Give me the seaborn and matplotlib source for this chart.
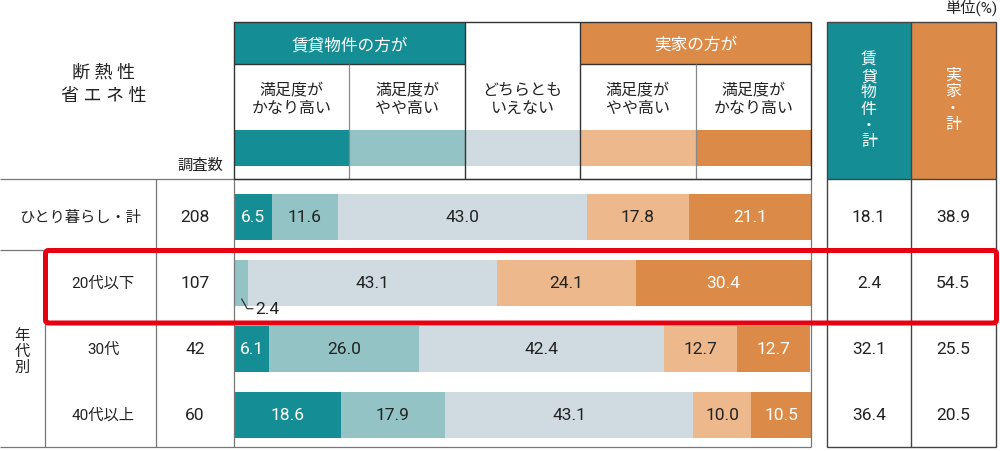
import numpy as np
import pandas as pd
import matplotlib
matplotlib.use('Agg')
import matplotlib.pyplot as plt
import seaborn as sns
from matplotlib.patches import Rectangle, FancyBboxPatch

# ---------------- data ----------------
rows = ['ひとり暮らし・計', '20代以下', '30代', '40代以上']
counts = [208, 107, 42, 60]
very_rent = [6.5, 0.0, 6.1, 18.6]     # 賃貸物件の方が 満足度がかなり高い
some_rent = [11.6, 2.4, 26.0, 17.9]   # 賃貸物件の方が 満足度がやや高い
neutral = [43.0, 43.1, 42.4, 43.1]    # どちらともいえない
some_home = [17.8, 24.1, 12.7, 10.0]  # 実家の方が 満足度がやや高い
very_home = [21.1, 30.4, 12.7, 10.5]  # 実家の方が 満足度がかなり高い
rent_total = [18.1, 2.4, 32.1, 36.4]
home_total = [38.9, 54.5, 25.5, 20.5]
categories = ['満足度が\nかなり高い', '満足度が\nやや高い', 'どちらとも\nいえない',
              '満足度が\nやや高い', '満足度が\nかなり高い']
group_rent = '賃貸物件の方が'
group_home = '実家の方が'
title_lines = '断 熱 性\n省 エ ネ 性'

# ---------------- style ----------------
sns.set_theme(style='white')
plt.rcParams['font.family'] = ['Roboto', 'Noto Sans CJK JP', 'DejaVu Sans']

TEAL = '#148e94'
LTEAL = '#93c3c5'
NEUT = '#d0dbe1'
LORNG = '#edb98c'
ORNG = '#dc8a47'
INK = '#222222'
colors = [TEAL, LTEAL, NEUT, LORNG, ORNG]
txtcol = ['white', INK, INK, INK, 'white']

W, H = 1000, 452
fig = plt.figure(figsize=(W / 100, H / 100), dpi=100)
fig.patch.set_facecolor('white')

# bar axes (table body, bar column)
ax = fig.add_axes([234 / W, (H - 448) / H, 577 / W, 268 / H])
# overlay axes in pixel coordinates
ov = fig.add_axes([0, 0, 1, 1], zorder=5)
ov.set_xlim(0, W)
ov.set_ylim(H, 0)
ov.axis('off')
ov.patch.set_visible(False)

# ---------------- stacked bars ----------------
series = [very_rent, some_rent, neutral, some_home, very_home]
cum = np.cumsum(np.array(series), axis=0)
for j in reversed(range(5)):
    df = pd.DataFrame({'row': rows, 'value': cum[j]})
    sns.barplot(data=df, x='value', y='row', color=colors[j], width=0.71,
                saturation=1, orient='h', linewidth=0, errorbar=None, ax=ax)

ROW_STEP = 66
Y_TOP = -38 / ROW_STEP
ax.set_xlim(0, 100)
ax.set_ylim(Y_TOP + 268 / ROW_STEP, Y_TOP)
ax.axis('off')

NUM_FS = 12.5
for i in range(len(rows)):
    for j in range(5):
        v = series[j][i]
        if v == 0:
            continue
        start = cum[j][i] - v
        if v < 4:
            # small segment: label below with leader line
            ax.plot([start + v * 0.55, start + v * 0.95, start + v + 0.9],
                    [i + 0.24, i + 0.39, i + 0.39], color=INK, lw=0.8,
                    solid_joinstyle='miter')
            ax.text(start + v + 1.3, i + 0.39, f'{v:.1f}', ha='left',
                    va='center', color=INK, fontsize=NUM_FS)
        else:
            ax.text(start + v / 2, i, f'{v:.1f}', ha='center', va='center',
                    color=txtcol[j], fontsize=NUM_FS)

# ---------------- table / header ----------------
def rect(x0, y0, x1, y1, fc='none', ec='none', lw=0.0, z=1):
    ov.add_patch(Rectangle((x0, y0), x1 - x0, y1 - y0, facecolor=fc,
                           edgecolor=ec, linewidth=lw, zorder=z))

def hline(y, x0, x1, c='#777777', lw=0.9):
    ov.plot([x0, x1], [y, y], color=c, lw=lw, zorder=3, solid_capstyle='butt')

def vline(x, y0, y1, c='#777777', lw=0.9):
    ov.plot([x, x], [y0, y1], color=c, lw=lw, zorder=3, solid_capstyle='butt')

xs = [234 + 577 * k / 5 for k in range(6)]
row_y = [218 + ROW_STEP * k for k in range(4)]
JP_FS = 11

# group headers
rect(xs[0], 23, xs[2], 65, fc=TEAL)
rect(xs[3], 23, xs[5], 65, fc=ORNG)
ov.text((xs[0] + xs[2]) / 2, 45, group_rent, ha='center', va='center',
        color='white', fontsize=12)
ov.text((xs[3] + xs[5]) / 2, 45, group_home, ha='center', va='center',
        color='white', fontsize=12)
# legend strip
for k in range(5):
    rect(xs[k], 131, xs[k + 1], 167, fc=colors[k])
    ov.text((xs[k] + xs[k + 1]) / 2, 99, categories[k], ha='center',
            va='center', color=INK, fontsize=11.5, linespacing=1.25)
# header lines
rect(234, 23, 811, 180, ec='#333333', lw=1.0, z=4)
hline(65, xs[0], xs[2], c='#333333', lw=1.0)
hline(65, xs[3], xs[5], c='#333333', lw=1.0)
vline(xs[2], 23, 180, c='#333333', lw=1.0)
vline(xs[3], 23, 180, c='#333333', lw=1.0)
vline(xs[1], 65, 180, c='#888888')
vline(xs[4], 65, 180, c='#888888')

# left header
ov.text(104, 84, title_lines, ha='center', va='center', color=INK,
        fontsize=13, linespacing=1.4)
ov.text(200, 166, '調査数', ha='center', va='center', color=INK, fontsize=JP_FS)
ov.text(997, 8, '単位(%)', ha='right', va='center', color=INK, fontsize=11)

# body lines
for y in (180, 251, 448):
    hline(y, 0, 811)
vline(45, 251, 448)
vline(156, 180, 448)
vline(234, 180, 448)
vline(811, 180, 448)

# row labels
ov.text(80, row_y[0], rows[0], ha='center', va='center', color=INK, fontsize=JP_FS)
for i in range(1, 4):
    ov.text(103, row_y[i], rows[i], ha='center', va='center', color=INK,
            fontsize=JP_FS)
ov.text(22, 352, '年\n代\n別', ha='center', va='center', color=INK,
        fontsize=JP_FS, linespacing=1.2)
for i in range(4):
    ov.text(195, row_y[i], f'{counts[i]}', ha='center', va='center',
            color=INK, fontsize=NUM_FS)

# right table
rect(827, 23, 911, 180, fc=TEAL)
rect(911, 23, 996, 180, fc=ORNG)
ov.text(869, 101, '賃\n貸\n物\n件\n・\n計', ha='center', va='center',
        color='white', fontsize=11.5, linespacing=1.1)
ov.text(953, 100, '実\n家\n・\n計', ha='center', va='center',
        color='white', fontsize=11.5, linespacing=1.1)
rect(827, 23, 996, 448, ec='#444444', lw=1.0, z=4)
vline(911, 23, 448, c='#444444', lw=1.0)
hline(180, 827, 996, c='#444444', lw=1.0)
hline(251, 827, 996, c='#444444', lw=1.0)
for i in range(4):
    ov.text(869, row_y[i], f'{rent_total[i]:.1f}', ha='center', va='center',
            color=INK, fontsize=NUM_FS)
    ov.text(953, row_y[i], f'{home_total[i]:.1f}', ha='center', va='center',
            color=INK, fontsize=NUM_FS)

# red highlight box around 20代以下
ov.add_patch(FancyBboxPatch((45.5, 251.5), 951, 72.5,
                            boxstyle='round,pad=0,rounding_size=3',
                            facecolor='none', edgecolor='#e60012',
                            linewidth=3.6, zorder=10))

fig.savefig('out.png', dpi=100, facecolor='white')
